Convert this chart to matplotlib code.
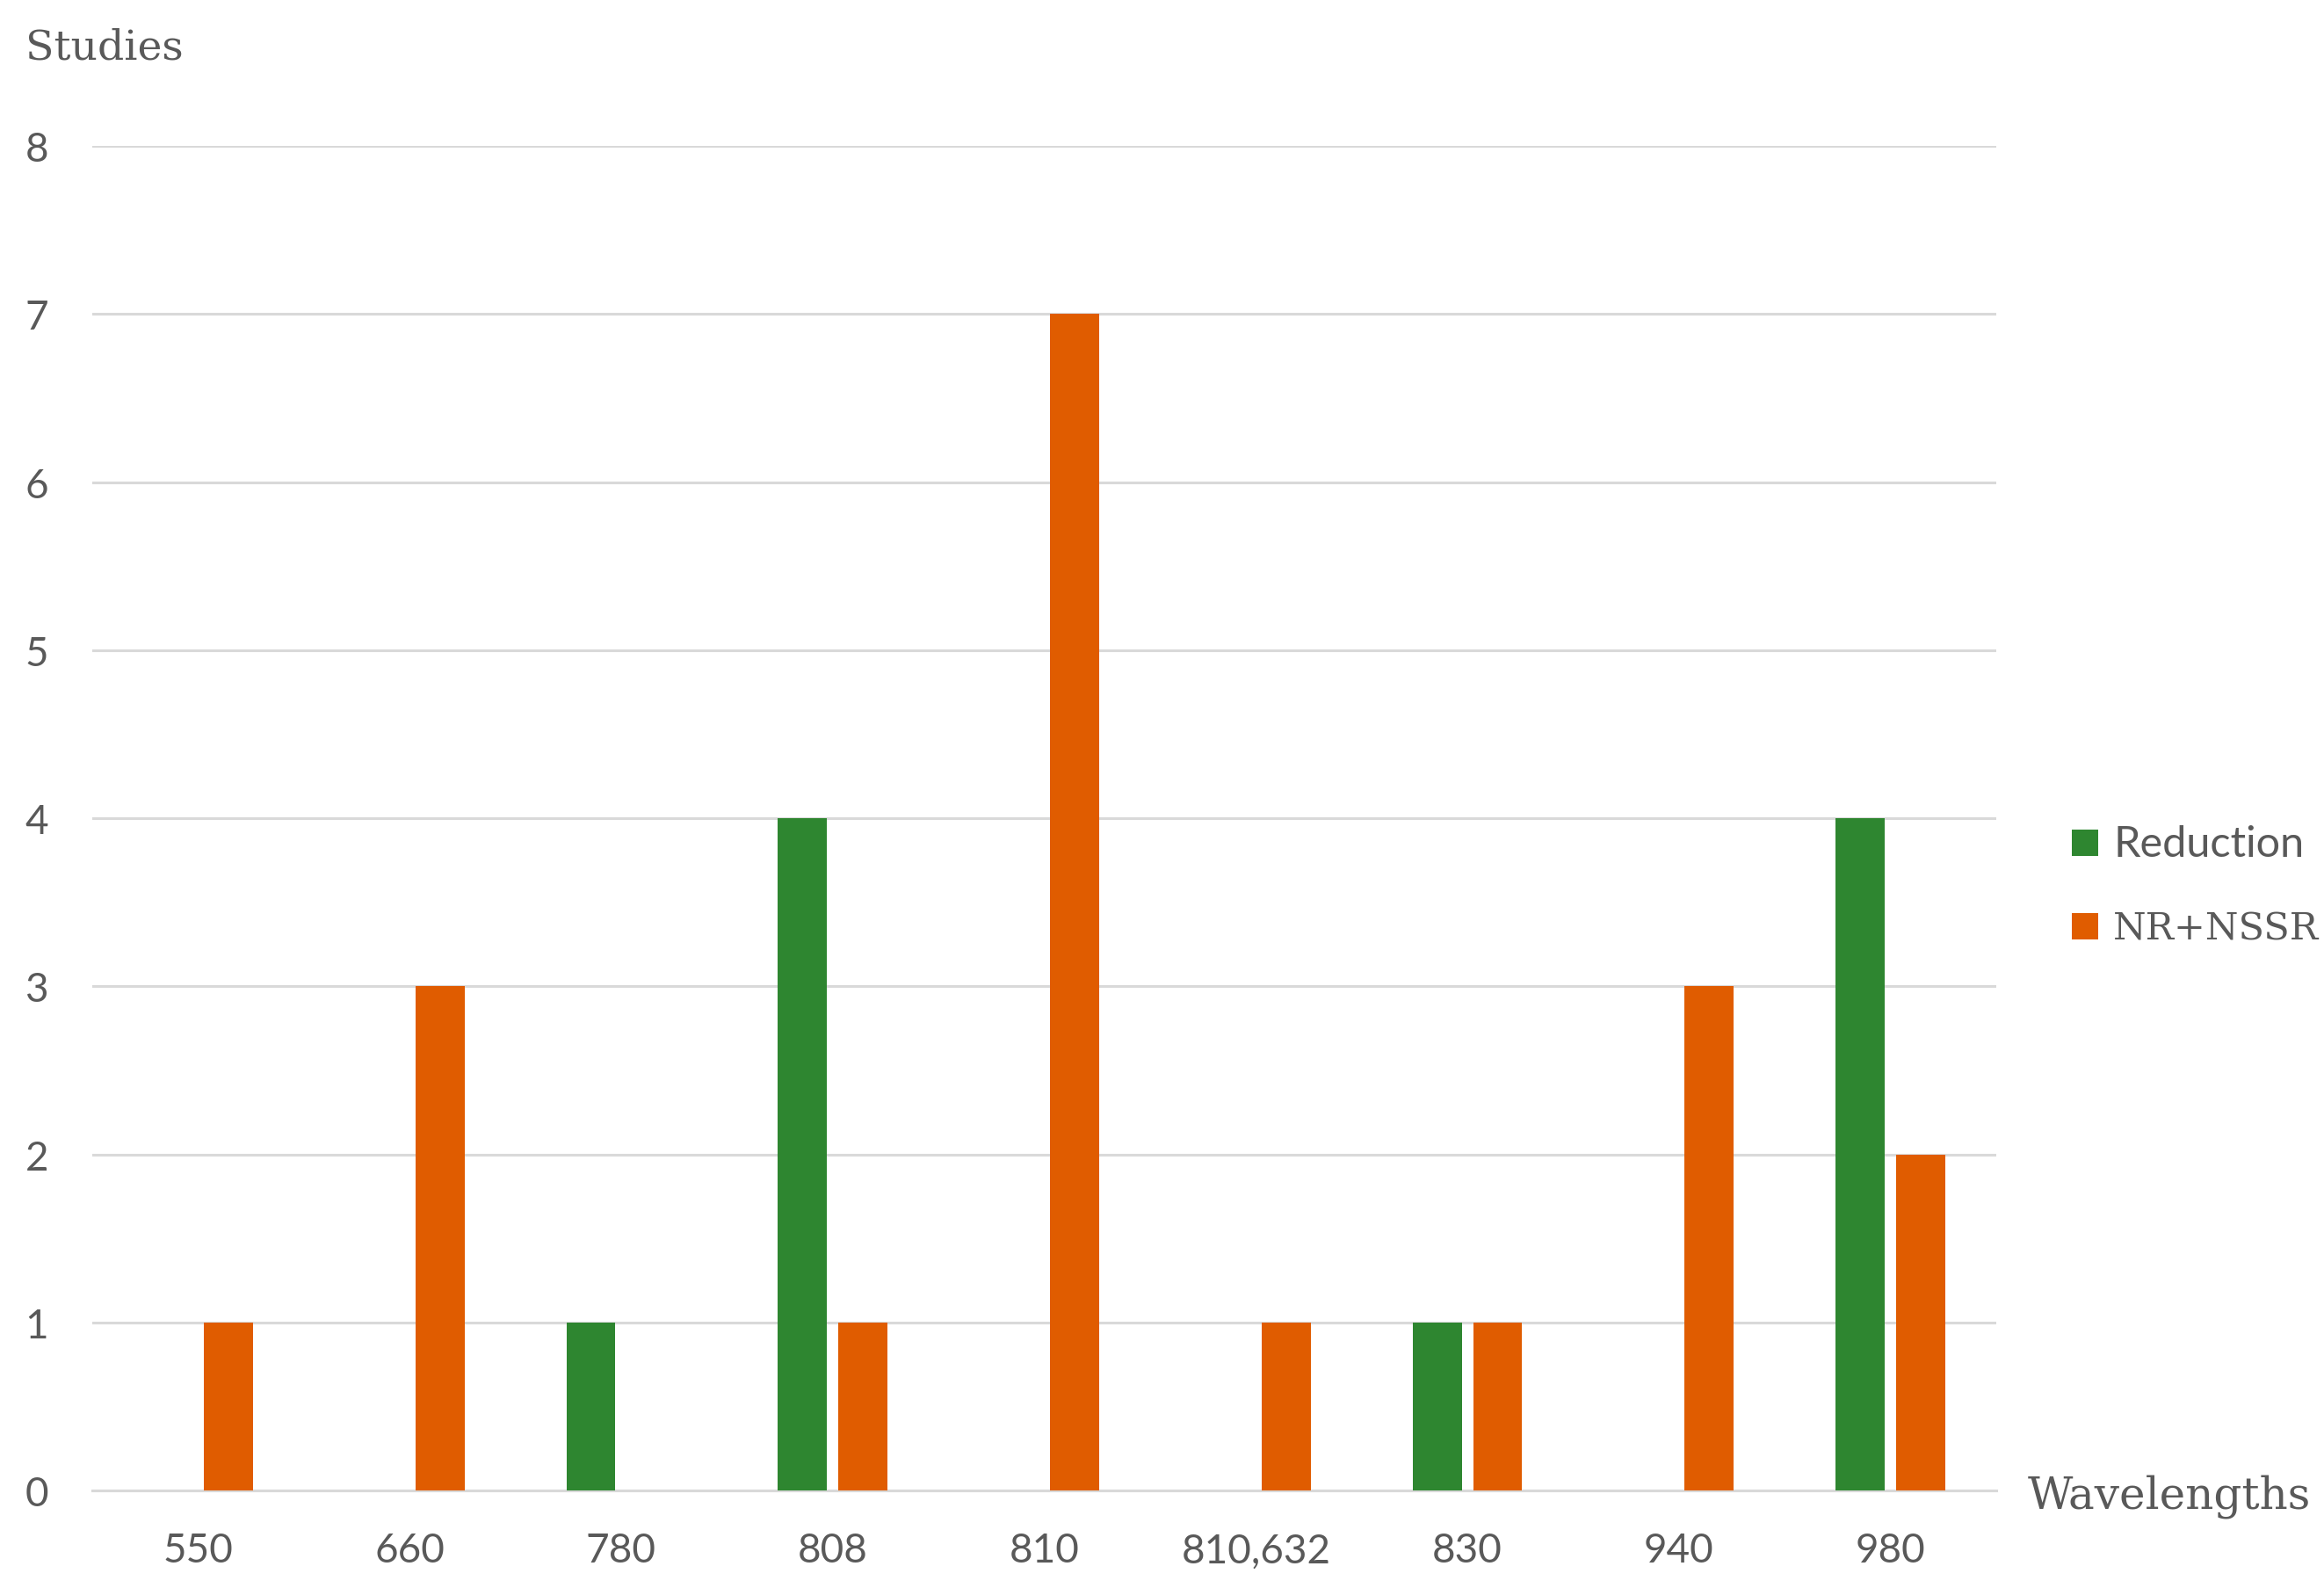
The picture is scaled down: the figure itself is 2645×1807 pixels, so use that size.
import matplotlib.pyplot as plt
import numpy as np
from matplotlib.patches import Patch

wavelengths = ["550", "660", "780", "808", "810", "810,632", "830", "940", "980"]
reduction = [0, 0, 1, 4, 0, 0, 1, 0, 4]
nr_nssr = [1, 3, 0, 1, 7, 1, 1, 3, 2]

green = "#2E8630"
orange = "#E05C00"
txt = "#595959"

fig = plt.figure(figsize=(26.45, 18.08), dpi=100)
ax = fig.add_axes([0.0397, 0.0614, 0.8193, 0.8462])

x = np.arange(len(wavelengths))
width = 0.232
off = 0.143

ax.bar(x - off, reduction, width, color=green, linewidth=0, zorder=3)
ax.bar(x + off, nr_nssr, width, color=orange, linewidth=0, zorder=3)

ax.set_xlim(-0.5, len(wavelengths) - 0.5)
ax.set_ylim(0, 8)
ax.set_yticks(range(0, 9))
ax.yaxis.grid(True, color="#d9d9d9", linewidth=2.2, zorder=0)
ax.set_axisbelow(True)
for s in ["top", "right", "left"]:
    ax.spines[s].set_visible(False)
ax.spines["bottom"].set_color("#d9d9d9")
ax.spines["bottom"].set_linewidth(2.2)

ax.set_xticks(x)
ax.set_xticklabels(wavelengths)
ax.tick_params(axis="both", length=0, labelsize=33, labelcolor=txt,
               labelfontfamily="Lato")
ax.tick_params(axis="x", pad=34)
ax.tick_params(axis="y", pad=36)

fig.text(29 / 2645, 1 - 55 / 1808, "Studies", fontsize=34, color=txt,
         family="DejaVu Serif", va="center", ha="left")
fig.text(2308 / 2645, 1 - 1703 / 1808, "Wavelengths", fontsize=36, color=txt,
         family="DejaVu Serif", va="center", ha="left")

handles = [Patch(color=green, linewidth=0), Patch(color=orange, linewidth=0)]
leg = fig.legend(handles, ["Reduction", "NR+NSSR"], loc="center left",
                 bbox_to_anchor=(2358 / 2645, 1 - 1009 / 1808),
                 bbox_transform=fig.transFigure, frameon=False, fontsize=31,
                 handlelength=0.7, handleheight=0.7, handletextpad=0.4,
                 labelspacing=1.25, borderpad=0, borderaxespad=0,
                 labelcolor=txt)
leg.get_texts()[0].set_family("Lato")
leg.get_texts()[0].set_fontsize(35)
leg.get_texts()[1].set_family("DejaVu Serif")

fig.savefig("out.png", dpi=100)
